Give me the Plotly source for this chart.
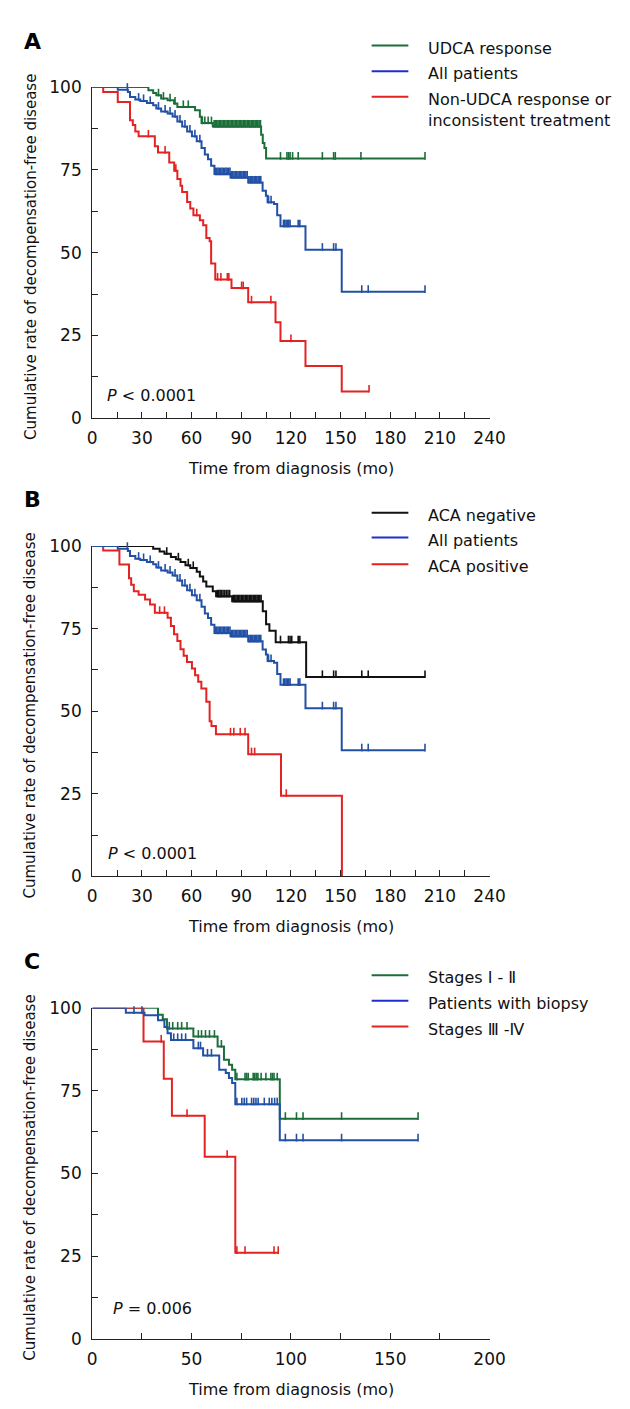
import plotly.graph_objects as go

W, H = 630, 1409

GREEN = "#1b6e3a"
BLUE = "#2250a4"
RED = "#e32222"
BLACK = "#111111"

# ---------------- Panel A ----------------
a_udca_t = [33.9, 36.8, 38.7, 41.6, 45.5, 49.4, 51.4, 62.1, 65.0, 66.0, 72.8, 102.0, 103.0, 104.0, 105.0]
a_udca_s = [99.0, 98.2, 97.5, 96.5, 96.0, 95.0, 94.0, 93.0, 91.0, 89.1, 88.1, 85.6, 83.1, 81.6, 78.4]
a_udca_end = 201
a_udca_cens = [20.2, 22, 24, 26, 28, 30, 32, 40, 43, 47, 50, 55, 58, 66.5, 68, 70, 72,
               73.6, 74.4, 75.2, 76.0, 76.8, 77.6, 78.4, 79.2, 80.0, 80.8, 81.6, 82.4, 83.2, 84.0, 84.8,
               85.6, 86.4, 87.2, 88.0, 88.8, 89.6, 90.4, 91.2, 92.0, 92.8, 93.6, 94.4, 95.2, 96.0, 96.8,
               97.6, 98.4, 99.2, 100.0, 100.8, 101.6,
               113.7, 117.6, 118.6, 119.5, 121, 124.4, 139, 145.8, 146.8, 162.3, 201]

all_t = [15.4, 21.5, 22.8, 26, 29, 33, 36.8, 38.7, 41.6, 45.5, 48.5, 51.4, 54.3, 57.3, 60.2, 63.1,
         66.0, 68.0, 69.9, 71.8, 73.8, 83.5, 94.2, 102.9, 104.9, 105.9, 109.8, 111.7, 113.7, 128.8, 150.7]
all_s = [99.2, 98.5, 97.0, 96.2, 95.8, 95.2, 94.5, 93.5, 92.6, 92.0, 91.1, 89.6, 88.1, 86.6, 85.1, 83.6,
         81.6, 79.6, 78.2, 76.2, 73.7, 72.7, 71.2, 68.7, 67.2, 65.2, 64.7, 61.3, 58.0, 50.9, 38.2]
all_end = 201
all_cens = [6.6, 21.2, 28, 31, 35, 40, 44, 47, 50, 53, 56, 59, 62, 65,
            74.4, 75.2, 76.0, 76.8, 77.6, 78.4, 79.2, 80.0, 80.8, 81.6, 82.4, 83.2, 84.0, 84.8,
            85.6, 86.4, 87.2, 88.0, 88.8, 89.6, 90.4, 91.2, 92.0, 92.8, 93.6, 94.6, 95.4, 96.2, 97.0,
            97.8, 98.6, 99.4, 100.2, 101.0, 101.8,
            106.5, 108, 115.5, 116.3, 117.1, 117.9, 118.7, 119.5, 124.4, 125.4, 139, 145.8, 147.2,
            162.8, 166.7, 201]

a_non_t = [6.6, 15.4, 22.8, 24.5, 26, 28, 37.8, 39.7, 46.5, 49.5, 51.4, 53.3, 54.3, 57.3, 59.2, 61.1,
           65, 67, 68.9, 70.9, 71.8, 74.3, 84.1, 94.2, 110.7, 113.7, 128.8, 150.7]
a_non_s = [98.5, 95.5, 90.0, 88.5, 86.6, 85.1, 82.1, 80.2, 77.2, 74.7, 72.2, 70.2, 68.3, 65.3, 63.3, 61.3,
           59.8, 58.3, 54.4, 53.4, 46.7, 41.9, 39.3, 35.0, 29.0, 23.3, 15.8, 8.1]
a_non_end = 167.2
a_non_cens = [33.9, 44, 50.5, 63.1, 75.7, 77.7, 81.6, 82.5, 90.2, 91.2, 96.2, 107.9, 120, 167.2]

# ---------------- Panel B ----------------
b_neg_t = [36.8, 40.7, 43.6, 47.5, 50.5, 53.3, 56.3, 59.2, 63.1, 65, 67, 68.9, 72.8, 74.8, 84.5,
           103, 105, 107, 110.8, 129.2]
b_neg_s = [99.2, 98.4, 97.7, 96.7, 96.0, 95.2, 94.2, 93.4, 92.2, 90.8, 89.3, 87.8, 86.3, 84.8, 83.3,
           80.3, 76.3, 74.4, 70.9, 60.4]
b_neg_end = 201
b_neg_cens = [20.2, 21.4, 22.6, 24, 26, 27.5, 29, 31, 33, 35, 45, 52, 58, 61,
              75.6, 76.4, 77.2, 78.0, 79.0, 80.0, 81.0, 82.0, 83.0,
              85.2, 86.0, 86.8, 87.6, 88.4, 89.2, 90.0, 90.8, 91.6, 92.4, 93.2, 94.0, 94.8, 95.6,
              96.4, 97.2, 98.0, 98.8, 99.6, 100.4, 101.2, 102.0,
              113.7, 118.5, 119.5, 120.5, 124.4, 125.4, 139, 145.8, 147.2, 162.8, 166.7, 201]

b_pos_t = [6.6, 16.4, 22.2, 23.5, 25.1, 28, 31.9, 34.9, 37.8, 45.5, 47.5, 49.4, 51.4, 53.3, 55.2, 57.2,
           60.2, 62.1, 64, 65.9, 68.9, 70.9, 72, 74.7, 94.2, 114, 150.8]
b_pos_s = [98.7, 94.4, 90.3, 88.3, 86.3, 85.3, 83.8, 82.3, 79.8, 78.3, 75.8, 73.3, 71.3, 68.8, 66.8, 64.9,
           62.9, 60.9, 58.9, 56.9, 52.9, 47.0, 45.5, 43.0, 37.0, 24.4, 0.0]
b_pos_end = 150.8
b_pos_cens = [40.7, 43.6, 83.5, 85.5, 89.4, 92.3, 96.2, 98.1, 117.2]

# ---------------- Panel C ----------------
c_early_t = [33.1, 35.5, 37.6, 50.9, 63.1, 66.3, 68.8, 70.4, 72, 94.4]
c_early_s = [97.9, 96.5, 93.75, 91.3, 88.3, 84.3, 82.8, 81.3, 78.4, 66.5]
c_early_end = 164
c_early_cens = [25.8, 27, 28.5, 30, 32, 38.8, 40.5, 43, 45, 47.7, 53.4, 55, 57, 59, 61.5, 65,
                72.8, 76.9, 77.7, 78.5, 81, 81.8, 82.6, 83.4, 85, 87.4, 89.9, 90.7, 91.5, 93.1,
                97.2, 102.8, 106.1, 125.5, 164]

c_bio_t = [16.9, 26.3, 33.1, 36.3, 37.9, 39.6, 50.9, 55.8, 63.9, 67.2, 68.8, 70.4, 72, 94.4]
c_bio_s = [98.5, 97.7, 96.2, 94.2, 92.3, 90.3, 87.8, 85.6, 81.3, 80.3, 78.8, 77.3, 70.9, 60.0]
c_bio_end = 164
c_bio_cens = [21, 25, 41, 43, 45, 47, 53.4, 54.5, 58, 60,
              72.8, 75.3, 76.5, 77.7, 80.2, 81.3, 82.4, 83.5, 86.6, 89.1, 90.4, 91.8, 93.1,
              97.2, 102.8, 106.1, 125.5, 164]

c_late_t = [25.8, 36, 40.1, 56.6, 72]
c_late_s = [89.8, 78.6, 67.4, 55.0, 26.0]
c_late_end = 93.6
c_late_cens = [34.7, 47.7, 67.9, 72.8, 76.9, 91.5, 93.6]


# ---------------- helpers ----------------
def km_xy(times, surv, end):
    return [0] + list(times) + [end], [100] + list(surv) + [surv[-1]]


def level_at(t, times, surv):
    s = 100
    for ti, si in zip(times, surv):
        if ti <= t:
            s = si
    return s


def px(x):
    return x / W


def py(y):
    return 1 - y / H


fig = go.Figure()


def add_curve(times, surv, end, cens, color, xa, ya):
    xs, ys = km_xy(times, surv, end)
    fig.add_trace(go.Scatter(x=xs, y=ys, mode="lines", line=dict(color=color, width=2, shape="hv"),
                             xaxis=xa, yaxis=ya, showlegend=False, cliponaxis=False, hoverinfo="skip"))
    # censor marks sit just above the curve
    cy = [level_at(t, times, surv) + 0.8 for t in cens]
    fig.add_trace(go.Scatter(x=cens, y=cy, mode="markers",
                             marker=dict(symbol="line-ns", size=5.5, line=dict(color=color, width=1.6)),
                             xaxis=xa, yaxis=ya, showlegend=False, cliponaxis=False, hoverinfo="skip"))


add_curve(a_udca_t, a_udca_s, a_udca_end, a_udca_cens, GREEN, "x", "y")
add_curve(a_non_t, a_non_s, a_non_end, a_non_cens, RED, "x", "y")
add_curve(all_t, all_s, all_end, all_cens, BLUE, "x", "y")

add_curve(b_neg_t, b_neg_s, b_neg_end, b_neg_cens, BLACK, "x2", "y2")
add_curve(b_pos_t, b_pos_s, b_pos_end, b_pos_cens, RED, "x2", "y2")
add_curve(all_t, all_s, all_end, all_cens, BLUE, "x2", "y2")

add_curve(c_early_t, c_early_s, c_early_end, c_early_cens, GREEN, "x3", "y3")
add_curve(c_late_t, c_late_s, c_late_end, c_late_cens, RED, "x3", "y3")
add_curve(c_bio_t, c_bio_s, c_bio_end, c_bio_cens, BLUE, "x3", "y3")

FONT = "DejaVu Sans"
x_dom = [px(82), px(493)]
panels = [(70, 406), (535.7, 870.7), (1004, 1340)]


def xaxis(maxv, step, anchor):
    vals = [i * step for i in range(int(maxv / step) + 1)]
    txt = [str(int(v)) if i % 2 == 0 else "" for i, v in enumerate(vals)]
    return dict(domain=x_dom, range=[0, maxv], anchor=anchor, showline=True, linecolor="#222",
                linewidth=1.3, ticks="inside", ticklen=6, tickwidth=1.2, tickcolor="#222",
                tickvals=vals, ticktext=txt, showgrid=False, zeroline=False,
                tickfont=dict(family=FONT, size=17, color="#111"), ticklabelstandoff=4)


def yaxis(top, bot, anchor):
    vals = [i * 12.5 for i in range(9)]
    txt = [str(int(v)) if i % 2 == 0 else "" for i, v in enumerate(vals)]
    return dict(domain=[py(bot), py(top)], range=[0, 100], anchor=anchor, showline=True,
                linecolor="#222", linewidth=1.3, ticks="inside", ticklen=6, tickwidth=1.2,
                tickcolor="#222", tickvals=vals, ticktext=txt, showgrid=False, zeroline=False,
                tickfont=dict(family=FONT, size=17, color="#111"), ticklabelstandoff=6)


fig.update_layout(
    width=W, height=H, margin=dict(l=0, r=0, t=0, b=0),
    paper_bgcolor="white", plot_bgcolor="white",
    font=dict(family=FONT, color="#111"),
    xaxis=xaxis(240, 15, "y"), yaxis=yaxis(*panels[0], "x"),
    xaxis2=xaxis(240, 15, "y2"), yaxis2=yaxis(*panels[1], "x2"),
    xaxis3=xaxis(200, 25, "y3"), yaxis3=yaxis(*panels[2], "x3"),
)

annotations = []
shapes = []

letters = [("A", 24), ("B", 488), ("C", 957)]
for letter, y in letters:
    annotations.append(dict(x=px(9), y=py(y), xref="paper", yref="paper", text="<b>%s</b>" % letter,
                            showarrow=False, xanchor="left", yanchor="middle",
                            font=dict(family=FONT, size=22, color="#000")))

for top, bot in panels:
    annotations.append(dict(x=px(18), y=py((top + bot) / 2 + 4), xref="paper", yref="paper",
                            text="Cumulative rate of decompensation-free disease", textangle=-90,
                            showarrow=False, xanchor="center", yanchor="middle",
                            font=dict(family=FONT, size=15, color="#111")))
    annotations.append(dict(x=px(287.5), y=py(bot + 51), xref="paper", yref="paper",
                            text="Time from diagnosis (mo)", showarrow=False, xanchor="center",
                            yanchor="middle", font=dict(family=FONT, size=16, color="#111")))

p_texts = [("<i>P</i> < 0.0001", 95, 383), ("<i>P</i> < 0.0001", 96, 848), ("<i>P</i> = 0.006", 101, 1309)]
for txt, x, y in p_texts:
    annotations.append(dict(x=px(x), y=py(y), xref="paper", yref="paper", text=txt, showarrow=False,
                            xanchor="left", yanchor="middle", font=dict(family=FONT, size=16, color="#111")))

legends = [
    [("UDCA response", GREEN, 28), ("All patients", "#1f2fcf", 54),
     ("Non-UDCA response or<br>inconsistent treatment", RED, 80)],
    [("ACA negative", BLACK, 502), ("All patients", "#1f2fcf", 527), ("ACA positive", RED, 554)],
    [("Stages \u2160 - \u2161", GREEN, 971), ("Patients with biopsy", "#1f2fcf", 997),
     ("Stages \u2162 -\u2163", RED, 1023)],
]
for rows in legends:
    for name, color, y in rows:
        shapes.append(dict(type="line", xref="paper", yref="paper", x0=px(371), x1=px(409),
                           y0=py(y), y1=py(y), line=dict(color=color, width=2)))
        annotations.append(dict(x=px(427), y=py(y - 9), xref="paper", yref="paper", text=name,
                                showarrow=False, xanchor="left", yanchor="top", align="left",
                                font=dict(family=FONT, size=16, color="#111")))

fig.update_layout(annotations=annotations, shapes=shapes)

fig.write_html("out.html")
